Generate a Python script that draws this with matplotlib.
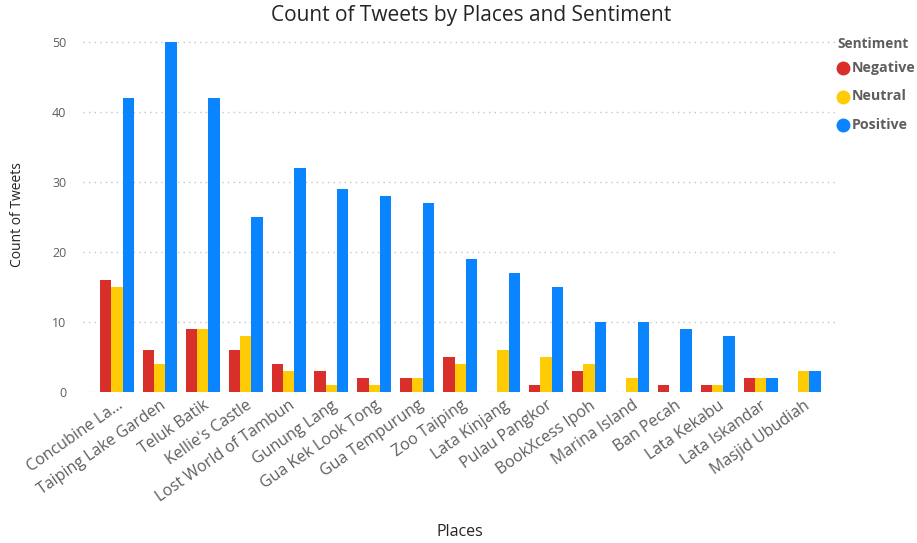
import matplotlib
matplotlib.use("Agg")
import matplotlib.pyplot as plt
import numpy as np
from matplotlib.lines import Line2D

places = ["Concubine La...", "Taiping Lake Garden", "Teluk Batik", "Kellie's Castle",
          "Lost World of Tambun", "Gunung Lang", "Gua Kek Look Tong", "Gua Tempurung",
          "Zoo Taiping", "Lata Kinjang", "Pulau Pangkor", "BookXcess Ipoh",
          "Marina Island", "Ban Pecah", "Lata Kekabu", "Lata Iskandar", "Masjid Ubudiah"]
negative = [16, 6, 9, 6, 4, 3, 2, 2, 5, 0, 1, 3, 0, 1, 1, 2, 0]
neutral = [15, 4, 9, 8, 3, 1, 1, 2, 4, 6, 5, 4, 2, 0, 1, 2, 3]
positive = [42, 50, 42, 25, 32, 29, 28, 27, 19, 17, 15, 10, 10, 9, 8, 2, 3]
series_names = ["Negative", "Neutral", "Positive"]
colors = ["#D82F2A", "#FFCB05", "#0A84FF"]
yticks = [0, 10, 20, 30, 40, 50]

plt.rcParams['font.family'] = ['Open Sans', 'DejaVu Sans']

fig = plt.figure(figsize=(9.17, 5.43), dpi=100)
W, H = 917, 543
left, right, bottom, top = 83, 837, 392, 35
ax = fig.add_axes([left / W, 1 - bottom / H, (right - left) / W, (bottom - top) / H])

x = np.arange(len(places))
bw = 0.264
for i, (vals, c, name) in enumerate(zip([negative, neutral, positive], colors, series_names)):
    ax.bar(x + (i - 1) * bw, vals, width=bw, color=c, label=name, zorder=3)

ax.set_ylim(0, 51)
ax.set_xlim(-0.79, len(places) - 1 + 0.78)
ax.set_yticks(yticks)
ax.set_yticklabels([str(v) for v in yticks])
for s in ax.spines.values():
    s.set_visible(False)
ax.tick_params(axis='both', length=0, colors='#605E5C', labelsize=9)
ax.tick_params(axis='y', pad=12)
ax.tick_params(axis='x', pad=4)
ax.yaxis.grid(True, linestyle=(0, (1, 3)), color='#C8C6C4', linewidth=1)
ax.set_axisbelow(True)
ax.set_xticks(x)
ax.set_xticklabels(places, rotation=35, ha='right', rotation_mode='anchor', fontsize=11.5, color='#605E5C')

fig.text(18 / W, 1 - 215 / H, "Count of Tweets", ha='center', va='center', rotation=90,
         fontsize=10, color='#252423')
fig.text(460 / W, 1 - 532 / H, "Places", ha='center', va='center', fontsize=11.5, color='#252423')
fig.text(471 / W, 1 - 15 / H, "Count of Tweets by Places and Sentiment", ha='center', va='center',
         fontsize=15, color='#252423')

# legend
fig.text(837 / W, 1 - 44 / H, "Sentiment", ha='left', va='center', fontsize=9.8,
         fontweight='bold', color='#605E5C')
for k, (name, c) in enumerate(zip(series_names, colors)):
    yy = 1 - (68 + 28.5 * k) / H
    fig.add_artist(Line2D([843 / W], [yy], marker='o', markersize=9, color=c, linestyle='none',
                          transform=fig.transFigure))
    fig.text(852 / W, yy, name, ha='left', va='center', fontsize=10.3, fontweight='bold', color='#605E5C')

fig.savefig("out.png", dpi=100)
